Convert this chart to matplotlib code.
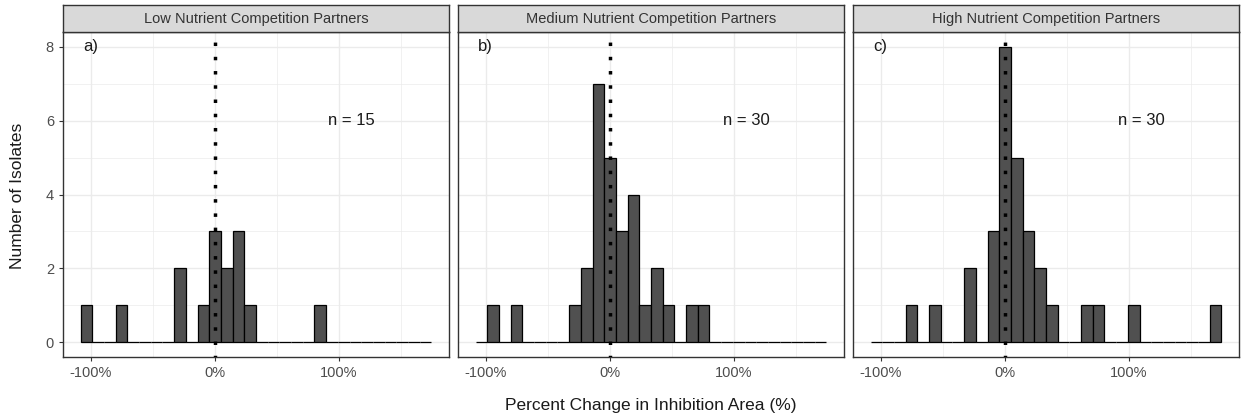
import numpy as np
import matplotlib.pyplot as plt
from matplotlib.ticker import FuncFormatter

plt.rcParams['font.family'] = ['Liberation Sans', 'DejaVu Sans']

# -----------------------
# Data (30 shared bins, ggplot style)
# -----------------------
bin_start = -1.082
bin_width = 0.0942
n_bins = 30

titles = ["Low Nutrient Competition Partners",
          "Medium Nutrient Competition Partners",
          "High Nutrient Competition Partners"]
labels = ["a)", "b)", "c)"]
n_text = ["n = 15", "n = 30", "n = 30"]

low_counts = [1, 0, 0, 1, 0, 0, 0, 0, 2, 0, 1, 3, 2, 3, 1,
              0, 0, 0, 0, 0, 1, 0, 0, 0, 0, 0, 0, 0, 0, 0]
med_counts = [0, 1, 0, 1, 0, 0, 0, 0, 1, 2, 7, 5, 3, 4, 1,
              2, 1, 0, 1, 1, 0, 0, 0, 0, 0, 0, 0, 0, 0, 0]
high_counts = [0, 0, 0, 1, 0, 1, 0, 0, 2, 0, 3, 8, 5, 3, 2,
               1, 0, 0, 1, 1, 0, 0, 1, 0, 0, 0, 0, 0, 0, 1]
all_counts = [low_counts, med_counts, high_counts]

edges = bin_start + bin_width * np.arange(n_bins + 1)
centers = (edges[:-1] + edges[1:]) / 2

# -----------------------
# Figure
# -----------------------
W, H = 1244, 419
fig = plt.figure(figsize=(W / 100, H / 100), dpi=100)

lefts = [63, 458, 853]
pw = 386
ptop, pbot = 32, 357
stop = 5

span = edges[-1] - edges[0]
xlim = (edges[0] - 0.05 * span, edges[-1] + 0.05 * span)
ylim = (-0.4, 8.4)

for i, (left, counts) in enumerate(zip(lefts, all_counts)):
    ax = fig.add_axes([left / W, (H - pbot) / H, pw / W, (pbot - ptop) / H])
    ax.set_xlim(*xlim)
    ax.set_ylim(*ylim)

    # grid
    for v in [-1.5, -0.5, 0.5, 1.5]:
        ax.axvline(v, color="#ebebeb", lw=0.5, zorder=0)
    for v in [-1, 0, 1]:
        ax.axvline(v, color="#ebebeb", lw=1.0, zorder=0)
    for v in [1, 3, 5, 7]:
        ax.axhline(v, color="#ebebeb", lw=0.5, zorder=0)
    for v in [0, 2, 4, 6, 8]:
        ax.axhline(v, color="#ebebeb", lw=1.0, zorder=0)

    ax.bar(centers, counts, width=bin_width, color="#505050",
           edgecolor="black", linewidth=0.9, zorder=2)
    ax.axvline(0, color="black", lw=2.5, linestyle=(0.5, (1, 3.1)), zorder=3)

    ax.text(-1.0, 8, labels[i], fontsize=12, ha="center", va="center",
            color="#1a1a1a")
    ax.text(1.1, 6, n_text[i], fontsize=12, ha="center", va="center",
            color="#1a1a1a")

    ax.set_xticks([-1, 0, 1])
    ax.xaxis.set_major_formatter(FuncFormatter(lambda v, p: f"{v * 100:.0f}%"))
    ax.set_yticks([0, 2, 4, 6, 8])
    ax.tick_params(colors="#333333", labelcolor="#4d4d4d", labelsize=10.5,
                   length=3, width=0.8)
    if i > 0:
        ax.tick_params(axis="y", left=False, labelleft=False)
    for s in ax.spines.values():
        s.set_color("#333333")
        s.set_linewidth(1.0)

    # strip
    sax = fig.add_axes([left / W, (H - ptop) / H, pw / W, (ptop - stop) / H])
    sax.set_facecolor("#d9d9d9")
    sax.set_xticks([])
    sax.set_yticks([])
    for s in sax.spines.values():
        s.set_color("#333333")
        s.set_linewidth(1.0)
    sax.text(0.5, 0.5, titles[i], ha="center", va="center", fontsize=10.5,
             color="#333333", transform=sax.transAxes)

fig.text(18 / W, 1 - 196 / H, "Number of Isolates", rotation=90,
         ha="center", va="center", fontsize=12.5, color="#1a1a1a")
fig.text(651 / W, 1 - 405 / H, "Percent Change in Inhibition Area (%)",
         ha="center", va="center", fontsize=12.5, color="#1a1a1a")

fig.savefig("out.png", dpi=100)
